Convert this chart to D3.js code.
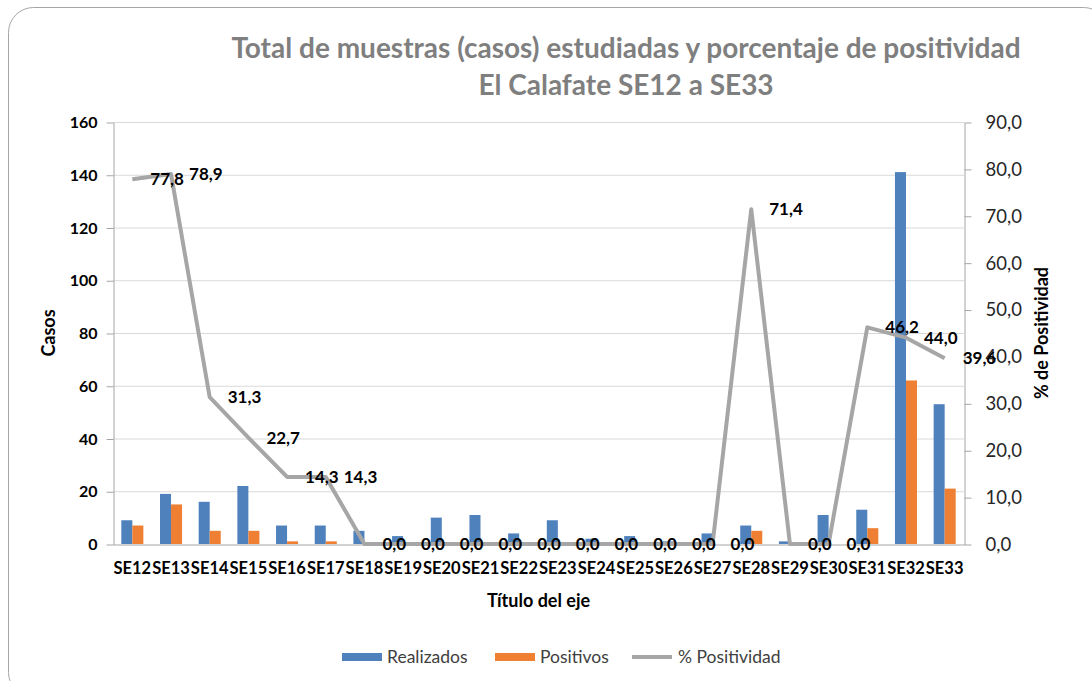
<!DOCTYPE html>
<html>
<head>
<meta charset="utf-8">
<script src="https://cdn.jsdelivr.net/npm/d3@7"></script>
<style>
  body { margin: 0; background: #fff; }
  text { font-family: Lato, "Open Sans", sans-serif; }
</style>
</head>
<body>
<div id="canvas"></div>
<script>
"use strict";

// datos
let semanas = ["SE12", "SE13", "SE14", "SE15", "SE16", "SE17", "SE18", "SE19", "SE20", "SE21", "SE22",
    "SE23", "SE24", "SE25", "SE26", "SE27", "SE28", "SE29", "SE30", "SE31", "SE32", "SE33"];
let realizados = [9, 19, 16, 22, 7, 7, 5, 3, 10, 11, 4, 9, 2, 3, 1, 4, 7, 1, 11, 13, 141, 53];
let positivos = [7, 15, 5, 5, 1, 1, 0, 0, 0, 0, 0, 0, 0, 0, 0, 0, 5, 0, 0, 6, 62, 21];
let positividad = [77.8, 78.9, 31.3, 22.7, 14.3, 14.3, 0, 0, 0, 0, 0, 0, 0, 0, 0, 0, 71.4, 0, 0, 46.2, 44.0, 39.6];
let ticksCasos = [0, 20, 40, 60, 80, 100, 120, 140, 160];
let ticksPct = [0, 10, 20, 30, 40, 50, 60, 70, 80, 90];
let series = ["Realizados", "Positivos", "% Positividad"];
let colores = ["#4f81bd", "#ee7f33", "#a6a6a6"];

let W = 1092, H = 681;
let pLeft = 113, pRight = 964, pTop = 122, pBottom = 544;

let es = d3.formatLocale({ decimal: ",", thousands: ".", grouping: [3], currency: ["$", ""] });
let fmt1 = es.format(".1f");

let svg = d3.select("#canvas")
    .append("svg")
    .attr("width", W)
    .attr("height", H);

// marco redondeado
svg.append("rect")
    .attr("x", 8.5).attr("y", 7.5)
    .attr("width", 1100).attr("height", 690)
    .attr("rx", 25)
    .attr("fill", "#fff")
    .attr("stroke", "#a6a6a6");

let x = d3.scaleBand().domain(semanas).range([pLeft, pRight]).padding(0);
let xs = d3.scaleBand().domain(["r", "p"]).range([x.bandwidth() * 0.215, x.bandwidth() * 0.785]);
let yL = d3.scaleLinear().domain([0, 160]).range([pBottom, pTop]);
let yR = d3.scaleLinear().domain([0, 90]).range([pBottom, pTop]);

// grilla
svg.append("g")
    .selectAll("line")
    .data(ticksCasos.slice(1))
    .join("line")
    .attr("x1", pLeft).attr("x2", pRight)
    .attr("y1", d => yL(d) + 0.5).attr("y2", d => yL(d) + 0.5)
    .attr("stroke", "#d9d9d9");

// eje izquierdo
let axL = svg.append("g")
    .attr("transform", `translate(${pLeft + 0.5},0.5)`)
    .call(d3.axisLeft(yL).tickValues(ticksCasos).tickSize(7).tickPadding(9).tickSizeOuter(0));
axL.selectAll("text").attr("font-size", 16).attr("font-weight", "bold").attr("fill", "#000");

// eje derecho
let axR = svg.append("g")
    .attr("transform", `translate(${pRight + 0.5},0.5)`)
    .call(d3.axisRight(yR).tickValues(ticksPct).tickFormat(fmt1).tickSize(7).tickPadding(14).tickSizeOuter(0));
axR.selectAll("text").attr("font-size", 18.5).attr("fill", "#262626");

svg.selectAll(".domain, .tick line").attr("stroke", "#a6a6a6");

// barras
let grupos = svg.append("g")
    .selectAll("g")
    .data(semanas)
    .join("g")
    .attr("transform", d => `translate(${x(d)},0)`);

grupos.append("rect")
    .attr("x", xs("r"))
    .attr("width", xs.bandwidth())
    .attr("y", (d, i) => yL(realizados[i]))
    .attr("height", (d, i) => pBottom - yL(realizados[i]))
    .attr("fill", colores[0]);

grupos.append("rect")
    .attr("x", xs("p"))
    .attr("width", xs.bandwidth())
    .attr("y", (d, i) => yL(positivos[i]))
    .attr("height", (d, i) => pBottom - yL(positivos[i]))
    .attr("fill", colores[1]);

// eje inferior
let axB = svg.append("g")
    .attr("transform", `translate(0,${pBottom + 0.5})`)
    .call(d3.axisBottom(x).tickSize(0).tickPadding(18));
axB.select(".domain").attr("stroke", "#a6a6a6");
axB.selectAll("text").attr("font-size", 16.5).attr("font-weight", "bold").attr("fill", "#000");

// linea de positividad
let linea = d3.line()
    .x((d, i) => x(semanas[i]) + x.bandwidth() / 2)
    .y(d => yR(d));

svg.append("path")
    .datum(positividad)
    .attr("d", linea)
    .attr("fill", "none")
    .attr("stroke", colores[2])
    .attr("stroke-width", 4)
    .attr("stroke-linejoin", "round");

// etiquetas de datos
svg.append("g")
    .selectAll("text")
    .data(positividad)
    .join("text")
    .attr("x", (d, i) => x(semanas[i]) + x.bandwidth() / 2 + 18)
    .attr("y", d => yR(d))
    .attr("dy", "0.36em")
    .attr("font-size", 17)
    .attr("font-weight", "bold")
    .attr("fill", "#000")
    .text(d => fmt1(d));

// titulo
let titulo = svg.append("text")
    .attr("x", 626)
    .attr("text-anchor", "middle")
    .attr("font-size", 28)
    .attr("font-weight", "bold")
    .attr("fill", "#7f7f7f");
titulo.append("tspan").attr("x", 626).attr("y", 58)
    .text("Total de muestras (casos) estudiadas y porcentaje de positividad");
titulo.append("tspan").attr("x", 626).attr("y", 95)
    .text("El Calafate SE12 a SE33");

// titulos de ejes
svg.append("text")
    .attr("transform", "translate(55,333) rotate(-90)")
    .attr("text-anchor", "middle")
    .attr("font-size", 18).attr("font-weight", "bold")
    .text("Casos");

svg.append("text")
    .attr("transform", "translate(1048,333) rotate(-90)")
    .attr("text-anchor", "middle")
    .attr("font-size", 18).attr("font-weight", "bold")
    .text("% de Positividad");

svg.append("text")
    .attr("x", (pLeft + pRight) / 2)
    .attr("y", 607)
    .attr("text-anchor", "middle")
    .attr("font-size", 18).attr("font-weight", "bold")
    .text("Título del eje");

// leyenda
let leyX = [342, 495, 632];
let ley = svg.append("g")
    .selectAll("g")
    .data(series)
    .join("g")
    .attr("transform", (d, i) => `translate(${leyX[i]},657)`);

ley.filter((d, i) => i < 2).append("rect")
    .attr("x", 0).attr("y", -4)
    .attr("width", 40).attr("height", 8)
    .attr("fill", (d, i) => colores[i]);

ley.filter((d, i) => i == 2).append("line")
    .attr("x1", 0).attr("x2", 40)
    .attr("stroke", colores[2]).attr("stroke-width", 4);

ley.append("text")
    .attr("x", (d, i) => i == 2 ? 46 : 45)
    .attr("y", 0)
    .attr("dy", "0.35em")
    .attr("font-size", 17.5)
    .attr("fill", "#404040")
    .text(d => d);
</script>
</body>
</html>
